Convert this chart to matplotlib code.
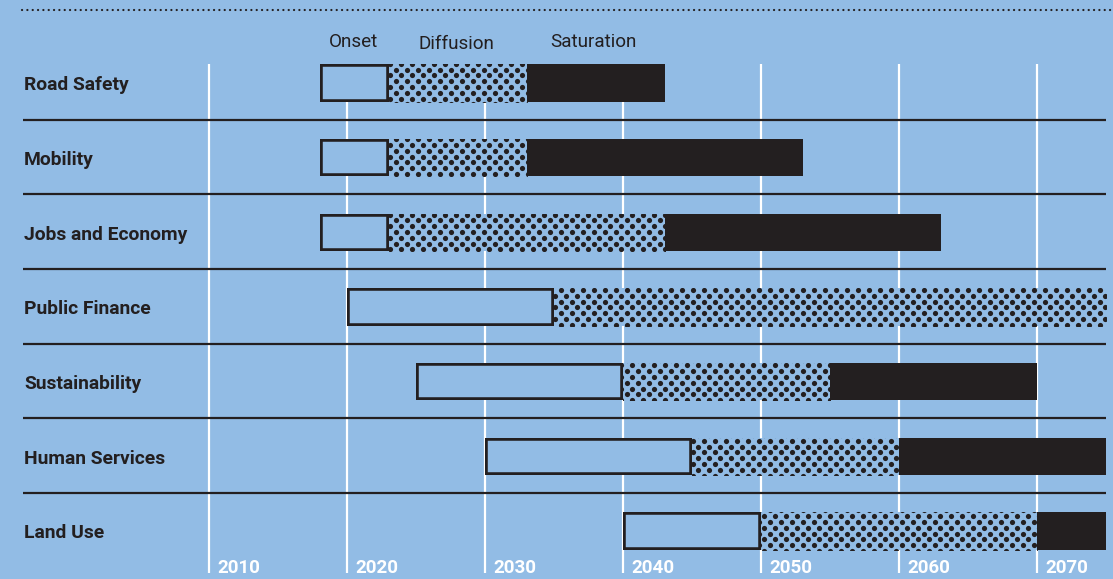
import numpy as np
import matplotlib
matplotlib.use("Agg")
import matplotlib.pyplot as plt

BG = "#92bce5"
DARK = "#231f20"

rows = ["Road Safety", "Mobility", "Jobs and Economy", "Public Finance",
        "Sustainability", "Human Services", "Land Use"]
onset_start = [2018, 2018, 2018, 2020, 2025, 2030, 2040]
diffusion_start = [2023, 2023, 2023, 2035, 2040, 2045, 2050]
saturation_start = [2033, 2033, 2043, 2075, 2055, 2060, 2070]
saturation_end = [2043, 2053, 2063, 2075, 2070, 2075, 2075]
years = [2010, 2020, 2030, 2040, 2050, 2060, 2070]
phase_labels = ["Onset", "Diffusion", "Saturation"]

# layout: 1 px = 1/13.8 year horizontally, 1 row = 74.67 px vertically
PX_X = 13.8
PX_Y = 74.67
X0 = 2010 - 209.3 / PX_X
X1 = X0 + 1113 / PX_X
Y_TOP = -83 / PX_Y
Y_BOT = Y_TOP + 579 / PX_Y


def px_x(p):
    return X0 + p / PX_X


def px_y(p):
    return Y_TOP + p / PX_Y


plt.rcParams["font.family"] = ["Roboto", "DejaVu Sans"]

fig = plt.figure(figsize=(11.13, 5.79), dpi=100)
fig.patch.set_facecolor(BG)
ax = fig.add_axes([0, 0, 1, 1])
ax.set_facecolor(BG)
ax.set_xlim(X0, X1)
ax.set_ylim(Y_BOT, Y_TOP)
ax.axis("off")

y = np.arange(len(rows))
H = 0.5
on_s = np.array(onset_start, float)
di_s = np.array(diffusion_start, float)
sa_s = np.array(saturation_start, float)
sa_e = np.array(saturation_end, float)

# white year gridlines
ax.vlines(years, -0.25, px_y(573), color="white", lw=1.6, zorder=1)
for yr in years:
    ax.text(yr + 0.62, px_y(573), str(yr), color="white", fontsize=13.5,
            fontweight="bold", ha="left", va="baseline", zorder=5)

# onset: outlined boxes (inside stroke via self clipping)
onset = ax.barh(y, di_s - on_s, left=on_s, height=H, color=BG,
                edgecolor=DARK, linewidth=4.0, zorder=2)
for p in onset.patches:
    p.set_clip_path(p)

# diffusion: dotted fill
diff = ax.barh(y, sa_s - di_s, left=di_s, height=H, color=BG,
               linewidth=0, zorder=2)
dx = 11 / PX_X
dy = 5.8 / PX_Y
gy = np.arange(Y_TOP, Y_BOT, dy)
for p, yi, a, b in zip(diff.patches, y, di_s, sa_s):
    xs, ys = [], []
    for j, yy in enumerate(gy):
        if abs(yy - yi) > H / 2 + dy:
            continue
        off = dx / 2 if j % 2 else 0.0
        gx = np.arange(X0 + off, X1, dx)
        gx = gx[(gx > a - dx) & (gx < b + dx)]
        xs.extend(gx)
        ys.extend([yy] * len(gx))
    sc = ax.scatter(xs, ys, s=14, color=DARK, linewidths=0, zorder=3)
    sc.set_clip_path(p)

# saturation: solid dark
ax.barh(y, sa_e - sa_s, left=sa_s, height=H, color=DARK, linewidth=0,
        zorder=2)

# row separators
ax.hlines(y[:-1] + 0.49, px_x(23), 2075, color=DARK, lw=1.6, zorder=4)

# top dotted rule
ax.plot([px_x(22), X1], [px_y(10), px_y(10)], color=DARK, lw=1.6,
        linestyle=(0, (0.05, 2.35)), dash_capstyle="round", zorder=4)

# row labels
for yi, name in zip(y, rows):
    ax.text(px_x(24), yi + 0.1, name, color=DARK, fontsize=13.9,
            fontweight="bold", ha="left", va="baseline", zorder=5)

# phase legend labels
for lab, cx, base in zip(phase_labels, [353, 456, 593.5], [47.3, 49, 46.7]):
    ax.text(px_x(cx), px_y(base), lab, color=DARK, fontsize=13.6,
            ha="center", va="baseline", zorder=5)

fig.savefig("out.png", dpi=100, facecolor=BG)
